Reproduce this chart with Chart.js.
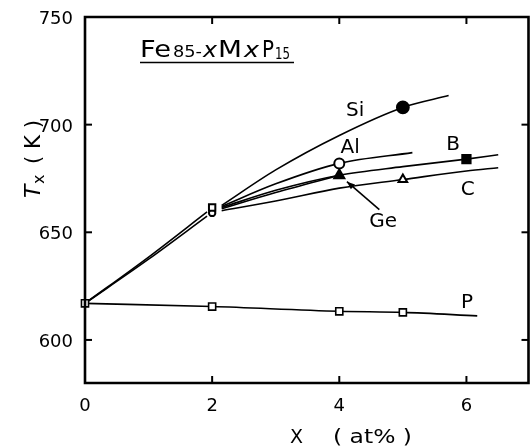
<!DOCTYPE html>
<html>
<head>
<meta charset="utf-8">
<script src="https://cdn.jsdelivr.net/npm/chart.js@4/dist/chart.umd.min.js"></script>
<style>
html,body{margin:0;padding:0;background:#fff;}
#wrap{width:530px;height:446px;position:relative;}
</style>
</head>
<body>
<div id="wrap"><canvas id="c" width="530" height="446"></canvas></div>
<script>
// ---- data ----
const xTicks = [0, 2, 4, 6];
const yTicks = [600, 650, 700, 750];
const xTickLabels = ['0', '2', '4', '6'];
const yTickLabels = ['600', '650', '700', '750'];

// shared low-x part of the M curves (two nearly coincident lines)
const lowAx = [0, 1, 1.92], lowAy = [617, 638.5, 659.5];
const lowBx = [0, 1, 1.92], lowBy = [617, 637.5, 657.5];

// curves beyond x = 2
const siX = [2.15, 3, 4, 5, 5.72], siY = [662.5, 679, 695, 708, 713.5];
const alX = [2.15, 3, 4, 5.15],    alY = [662, 672.5, 682, 687];
const bX  = [2.15, 3, 4, 5, 6, 6.5], bY = [661.5, 669.5, 676.5, 680.5, 684, 686];
const geX = [2.15, 3, 4],          geY = [661, 668.5, 676.5];
const cX  = [2.15, 3, 4, 5, 6, 6.5], cY = [660, 664.5, 670.5, 674.5, 678.5, 680];
const pX  = [0, 2, 4, 5, 6.17],    pY  = [617, 615.5, 613.3, 612.8, 611.2];

// measured points (markers)
const pMarkX = [0, 2, 4, 5], pMarkY = [617, 615.5, 613.3, 612.8];
const x2SquareX = [2], x2SquareY = [661.5];
const x2CircleX = [2], x2CircleY = [659];
const siMarkX = [5], siMarkY = [708];
const alMarkX = [4], alMarkY = [682];
const bMarkX = [6],  bMarkY = [684];
const geMarkX = [4], geMarkY = [676.5];
const cMarkX = [5],  cMarkY = [674.5];

// curve labels (data coordinates)
const labelText = ['Si', 'Al', 'B', 'C', 'P', 'Ge'];
const labelX = [4.25, 4.17, 5.79, 6.02, 6.01, 4.69];
const labelY = [706.4, 689.2, 690.6, 669.8, 617.3, 655];
// Ge arrow (from label to curve)
const arrowFrom = [4.63, 660.5], arrowTo = [4.12, 673.5];

const zip = (xs, ys) => xs.map((x, i) => ({x: x, y: ys[i]}));

function lineDs(xs, ys, tension) {
  return {data: zip(xs, ys), showLine: true, borderColor: '#000', borderWidth: 1.6,
          pointRadius: 0, pointHoverRadius: 0, tension: tension,
          cubicInterpolationMode: 'monotone', fill: false, clip: false, order: 2};
}
function markDs(xs, ys, style, r, filled, bw) {
  return {data: zip(xs, ys), showLine: false, pointStyle: style, pointRadius: r,
          pointHoverRadius: r, pointBackgroundColor: filled ? '#000' : '#fff',
          pointBorderColor: '#000', pointBorderWidth: bw || 1.8, clip: false, order: 0};
}

const datasets = [
  lineDs(lowAx, lowAy, 0.3),
  lineDs(lowBx, lowBy, 0.3),
  lineDs(siX, siY, 0.4),
  lineDs(alX, alY, 0.4),
  lineDs(bX, bY, 0.4),
  lineDs(geX, geY, 0.4),
  lineDs(cX, cY, 0.4),
  lineDs(pX, pY, 0),
  markDs(pMarkX, pMarkY, 'rect', 5, false, 1.6),
  markDs(x2SquareX, x2SquareY, 'rect', 4.5, false, 2),
  markDs(x2CircleX, x2CircleY, 'circle', 3.2, false, 2),
  markDs(siMarkX, siMarkY, 'circle', 6, true),
  markDs(alMarkX, alMarkY, 'circle', 5, false, 2),
  markDs(bMarkX, bMarkY, 'rect', 6, true),
  markDs(geMarkX, geMarkY, 'triangle', 6, true),
  markDs(cMarkX, cMarkY, 'triangle', 5, false, 2)
];

const FONT = "'DejaVu Sans', sans-serif";

// draw text stretched horizontally to a target width
function fitText(ctx, text, x, y, width) {
  const w = ctx.measureText(text).width;
  ctx.save();
  ctx.translate(x, y);
  ctx.scale(width / w, 1);
  ctx.fillText(text, 0, 0);
  ctx.restore();
}

const decor = {
  id: 'decor',
  afterDatasetsDraw(chart) {
    const ctx = chart.ctx, xs = chart.scales.x, ys = chart.scales.y, a = chart.chartArea;
    ctx.save();
    ctx.strokeStyle = '#000';
    ctx.fillStyle = '#000';
    // frame
    ctx.lineWidth = 2.6;
    const L = a.left, R = a.right - 1.5, T = a.top, B = a.bottom;
    ctx.beginPath();
    ctx.moveTo(L, T); ctx.lineTo(R, T); ctx.lineTo(R, B); ctx.lineTo(L, B); ctx.closePath();
    ctx.stroke();
    // inward tick marks + tick labels
    ctx.lineWidth = 2;
    const tl = 7;
    ctx.font = '18px ' + FONT;
    ctx.textAlign = 'center';
    ctx.textBaseline = 'middle';
    xTicks.forEach((v, i) => {
      const px = xs.getPixelForValue(v);
      ctx.fillText(xTickLabels[i], px, B + 23);
      if (v === 0) return;
      ctx.beginPath(); ctx.moveTo(px, B); ctx.lineTo(px, B - tl); ctx.stroke();
      ctx.beginPath(); ctx.moveTo(px, T); ctx.lineTo(px, T + tl); ctx.stroke();
    });
    ctx.textAlign = 'right';
    yTicks.forEach((v, i) => {
      const py = ys.getPixelForValue(v);
      ctx.fillText(yTickLabels[i], L - 12, py + 2.5);
      if (v === 750) return;
      ctx.beginPath(); ctx.moveTo(L, py); ctx.lineTo(L + tl, py); ctx.stroke();
      ctx.beginPath(); ctx.moveTo(R, py); ctx.lineTo(R - tl, py); ctx.stroke();
    });
    // curve labels
    ctx.font = '20px ' + FONT;
    ctx.textAlign = 'center';
    labelText.forEach((t, i) => {
      ctx.fillText(t, xs.getPixelForValue(labelX[i]), ys.getPixelForValue(labelY[i]));
    });
    // Ge arrow
    const fx = xs.getPixelForValue(arrowFrom[0]), fy = ys.getPixelForValue(arrowFrom[1]);
    const tx = xs.getPixelForValue(arrowTo[0]), ty = ys.getPixelForValue(arrowTo[1]);
    ctx.lineWidth = 1.6;
    ctx.beginPath(); ctx.moveTo(fx, fy); ctx.lineTo(tx, ty); ctx.stroke();
    const ang = Math.atan2(ty - fy, tx - fx), hl = 8, hw = 3.2;
    ctx.beginPath();
    ctx.moveTo(tx, ty);
    ctx.lineTo(tx - hl * Math.cos(ang) + hw * Math.sin(ang), ty - hl * Math.sin(ang) - hw * Math.cos(ang));
    ctx.lineTo(tx - hl * Math.cos(ang) - hw * Math.sin(ang), ty - hl * Math.sin(ang) + hw * Math.cos(ang));
    ctx.closePath(); ctx.fill();

    // title Fe85-xMxP15 (underlined)
    ctx.textAlign = 'left';
    ctx.textBaseline = 'alphabetic';
    const by = 57;
    ctx.font = '23px ' + FONT;        fitText(ctx, 'Fe', 140, by, 31);
    ctx.font = '15px ' + FONT;        fitText(ctx, '85-', 173, by, 29);
    ctx.font = 'italic 22px ' + FONT; fitText(ctx, 'x', 203, by, 14);
    ctx.font = '23px ' + FONT;        fitText(ctx, 'M', 218, by, 24);
    ctx.font = 'italic 22px ' + FONT; fitText(ctx, 'x', 244, by, 15);
    ctx.font = '23px ' + FONT;        fitText(ctx, 'P', 262, by, 12);
    ctx.font = '15px ' + FONT;        fitText(ctx, '15', 275, by + 2, 15);
    ctx.lineWidth = 1.6;
    ctx.beginPath(); ctx.moveTo(140, 62.5); ctx.lineTo(294, 62.5); ctx.stroke();

    // x-axis title
    ctx.font = '20px ' + FONT;
    fitText(ctx, 'X', 290, 443, 13);
    fitText(ctx, '( at% )', 333, 443, 79);

    // y-axis title Tx (K), rotated
    ctx.translate(40, 198);
    ctx.rotate(-Math.PI / 2);
    ctx.font = 'italic 22px ' + FONT; ctx.fillText('T', 0, 0);
    ctx.font = '16px ' + FONT;        ctx.fillText('x', 14, 4);
    ctx.font = '22px ' + FONT;        fitText(ctx, '( K )', 34, 0, 44);
    ctx.restore();
  }
};

new Chart(document.getElementById('c'), {
  type: 'scatter',
  data: {datasets: datasets},
  options: {
    responsive: false,
    animation: false,
    events: [],
    layout: {autoPadding: false, padding: {top: 17, right: 0, left: 0, bottom: 0}},
    plugins: {legend: {display: false}, tooltip: {enabled: false}, title: {display: false}},
    scales: {
      x: {
        type: 'linear', min: 0, max: 7,
        afterBuildTicks: s => { s.ticks = xTicks.map(v => ({value: v})); },
        afterFit: s => { s.height = 63; },
        grid: {display: false, drawTicks: false},
        border: {display: false},
        ticks: {display: false}
      },
      y: {
        type: 'linear', min: 580, max: 750,
        afterBuildTicks: s => { s.ticks = yTicks.map(v => ({value: v})); },
        afterFit: s => { s.width = 85; },
        grid: {display: false, drawTicks: false},
        border: {display: false},
        ticks: {display: false}
      }
    }
  },
  plugins: [decor]
});
</script>
</body>
</html>
